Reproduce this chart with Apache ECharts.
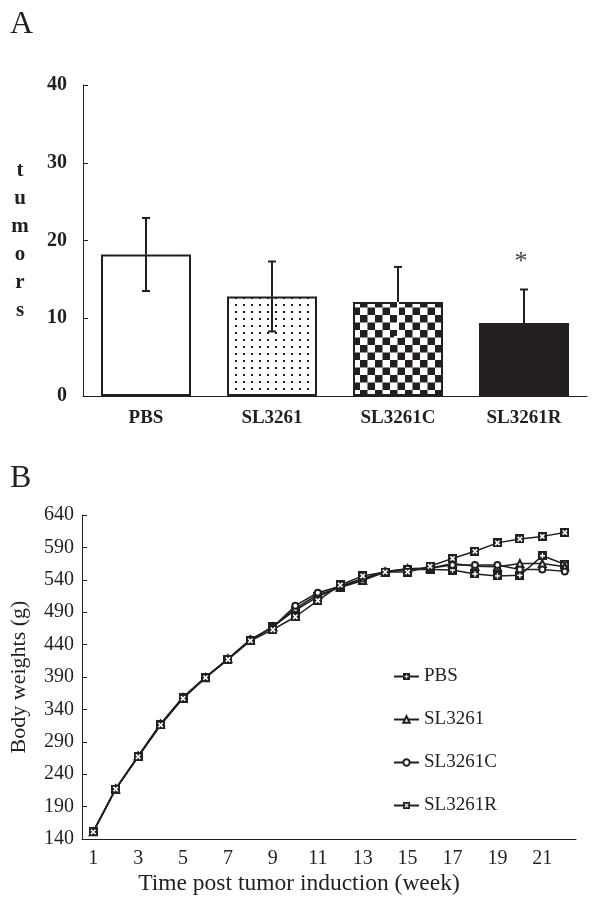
<!DOCTYPE html>
<html><head><meta charset="utf-8">
<script src="https://cdn.jsdelivr.net/npm/echarts@6/dist/echarts.min.js"></script>
<style>html,body{margin:0;padding:0;background:#fff}#c{width:597px;height:908px}</style>
</head><body><div id="c"></div>
<script>
// ---- Panel A data ----
const groups = ['PBS', 'SL3261', 'SL3261C', 'SL3261R'];
const tumorMeans = [18.2, 12.8, 12.1, 9.4];
const tumorErrors = [4.7, 4.5, 4.5, 4.3];
const significance = ['', '', '', '*'];

// ---- Panel B data ----
const weeks = ['1','2','3','4','5','6','7','8','9','10','11','12','13','14','15','16','17','18','19','20','21','22'];
const pbs      = [151, 217, 267, 316, 358, 389, 417, 446, 468, 493, 514, 529, 541, 552, 556, 556, 555, 549, 546, 547, 577, 564];
const sl3261   = [151, 217, 268, 317, 358, 389, 418, 447, 467, 496, 517, 528, 539, 552, 557, 558, 565, 561, 560, 565, 565, 560];
const sl3261C  = [151, 218, 268, 318, 359, 390, 418, 448, 467, 500, 520, 530, 542, 553, 557, 558, 563, 563, 563, 556, 556, 553];
const sl3261R  = [151, 217, 267, 316, 357, 389, 417, 446, 463, 483, 508, 532, 546, 552, 552, 561, 573, 584, 597, 603, 607, 613];

const INK = '#231f20';
const FONT = '"Liberation Serif", "Times New Roman", serif';

function makePattern(kind) {
  const c = document.createElement('canvas');
  const ctx = c.getContext('2d');
  if (kind === 'dots') {
    c.width = 8; c.height = 7;
    ctx.fillStyle = '#fff'; ctx.fillRect(0, 0, 8, 7);
    ctx.fillStyle = INK; ctx.fillRect(3, 3, 2, 2);
  } else if (kind === 'checker') {
    c.width = 15; c.height = 15;
    ctx.fillStyle = '#fff'; ctx.fillRect(0, 0, 15, 15);
    ctx.fillStyle = INK;
    ctx.fillRect(0, 0, 7.5, 7.5); ctx.fillRect(7.5, 7.5, 7.5, 7.5);
  }
  return c;
}
function markerImage(kind) {
  const s = 27;
  const c = document.createElement('canvas');
  c.width = s; c.height = s;
  const ctx = c.getContext('2d');
  ctx.fillStyle = INK; ctx.fillRect(0, 0, s, s);
  ctx.strokeStyle = '#fff'; ctx.lineWidth = 5; ctx.lineCap = 'butt';
  ctx.beginPath();
  if (kind === 'plus') {
    ctx.moveTo(s / 2, 6); ctx.lineTo(s / 2, s - 6);
    ctx.moveTo(6, s / 2); ctx.lineTo(s - 6, s / 2);
  } else {
    ctx.moveTo(7, 7); ctx.lineTo(s - 7, s - 7);
    ctx.moveTo(s - 7, 7); ctx.lineTo(7, s - 7);
  }
  ctx.stroke();
  return 'image://' + c.toDataURL();
}

const barFills = [
  '#ffffff',
  { image: makePattern('dots'), repeat: 'repeat' },
  { image: makePattern('checker'), repeat: 'repeat' },
  INK
];
const lowerColors = [INK, INK, '#ffffff', INK];

const chart = echarts.init(document.getElementById('c'), null, { renderer: 'canvas' });

const option = {
  animation: false,
  backgroundColor: '#fff',
  textStyle: { fontFamily: FONT, color: INK },
  title: [
    { text: 'A', left: 5, top: 4, textStyle: { fontFamily: FONT, fontSize: 32, fontWeight: 'normal', color: INK } },
    { text: 'B', left: 5, top: 458, textStyle: { fontFamily: FONT, fontSize: 32, fontWeight: 'normal', color: INK } }
  ],
  grid: [
    { left: 83, top: 85, width: 504, height: 311 },
    { left: 81, top: 515, width: 495, height: 324 }
  ],
  xAxis: [
    {
      gridIndex: 0, type: 'category', data: groups, boundaryGap: true,
      axisLine: { lineStyle: { color: INK, width: 1 } },
      axisTick: { inside: true, length: 5, interval: 0, lineStyle: { color: INK } },
      axisLabel: { fontFamily: FONT, fontSize: 19, fontWeight: 'bold', color: INK, margin: 13 }
    },
    {
      gridIndex: 1, type: 'category', data: weeks, boundaryGap: true,
      axisLine: { lineStyle: { color: INK, width: 1 } },
      axisTick: { inside: true, length: 5, interval: 0, lineStyle: { color: INK } },
      axisLabel: { fontFamily: FONT, fontSize: 20, color: INK, margin: 10, interval: 1 },
      name: 'Time post tumor induction (week)', nameLocation: 'middle', nameGap: 33,
      nameTextStyle: { fontFamily: FONT, fontSize: 23.5, color: INK, padding: [0, 60, 0, 0] }
    }
  ],
  yAxis: [
    {
      gridIndex: 0, type: 'value', min: 0, max: 40, interval: 10,
      axisLine: { show: true, lineStyle: { color: INK, width: 1 } },
      axisTick: { show: true, inside: true, length: 5, lineStyle: { color: INK } },
      splitLine: { show: false },
      axisLabel: { fontFamily: FONT, fontSize: 20, fontWeight: 'bold', color: INK, margin: 16 },
      name: 't\nu\nm\no\nr\ns', nameLocation: 'middle', nameRotate: 0, nameGap: 63,
      nameTextStyle: { fontFamily: FONT, fontSize: 21, fontWeight: 'bold', color: INK, lineHeight: 28, align: 'center', verticalAlign: 'middle' }
    },
    {
      gridIndex: 1, type: 'value', min: 140, max: 640, interval: 50,
      axisLine: { show: true, lineStyle: { color: INK, width: 1 } },
      axisTick: { show: true, inside: true, length: 5, lineStyle: { color: INK } },
      splitLine: { show: false },
      axisLabel: { fontFamily: FONT, fontSize: 20, color: INK, margin: 8 },
      name: 'Body weights (g)', nameLocation: 'middle', nameGap: 52,
      nameTextStyle: { fontFamily: FONT, fontSize: 22, color: INK }
    }
  ],
  legend: {
    data: groups, orient: 'vertical', left: 393, top: 667,
    itemWidth: 25, itemHeight: 8, itemGap: 24, padding: 0,
    textStyle: { fontFamily: FONT, fontSize: 19, color: INK }
  },
  series: [
    {
      name: 'Tumors', type: 'bar', xAxisIndex: 0, yAxisIndex: 0, barWidth: 90,
      data: tumorMeans.map((v, i) => ({ value: v, itemStyle: { color: barFills[i], borderColor: INK, borderWidth: 2 } })),
      z: 2
    },
    {
      name: 'Tumor error', type: 'custom', xAxisIndex: 0, yAxisIndex: 0, z: 5,
      data: tumorMeans.map((v, i) => [i, v, tumorErrors[i]]),
      encode: { x: 0, y: 1 },
      renderItem: function (params, api) {
        const i = api.value(0), m = api.value(1), e = api.value(2);
        const pm = api.coord([i, m]);
        const pt = api.coord([i, m + e]);
        const pb = api.coord([i, m - e]);
        const cap = 4;
        const up = { stroke: INK, lineWidth: 2 };
        const lo = { stroke: lowerColors[params.dataIndex], lineWidth: 2 };
        const children = [
          { type: 'line', shape: { x1: pm[0], y1: pm[1], x2: pt[0], y2: pt[1] }, style: up },
          { type: 'line', shape: { x1: pt[0] - cap, y1: pt[1], x2: pt[0] + cap, y2: pt[1] }, style: up },
          { type: 'line', shape: { x1: pm[0], y1: pm[1], x2: pb[0], y2: pb[1] }, style: lo },
          { type: 'line', shape: { x1: pb[0] - cap, y1: pb[1], x2: pb[0] + cap, y2: pb[1] }, style: lo }
        ];
        const sig = significance[params.dataIndex];
        if (sig) {
          children.push({ type: 'text', x: pt[0] - 3, y: pt[1] - 27,
            style: { text: sig, fontFamily: FONT, fontSize: 26, fill: '#444', align: 'center', verticalAlign: 'middle' } });
        }
        return { type: 'group', children: children };
      }
    },
    {
      name: 'PBS', type: 'line', xAxisIndex: 1, yAxisIndex: 1, data: pbs,
      symbol: markerImage('plus'), symbolSize: 9,
      lineStyle: { color: INK, width: 1.5 }, itemStyle: { color: INK }, z: 3
    },
    {
      name: 'SL3261', type: 'line', xAxisIndex: 1, yAxisIndex: 1, data: sl3261,
      symbol: 'emptyTriangle', symbolSize: 7,
      lineStyle: { color: INK, width: 1.5 }, itemStyle: { color: INK, borderWidth: 1 }, z: 3
    },
    {
      name: 'SL3261C', type: 'line', xAxisIndex: 1, yAxisIndex: 1, data: sl3261C,
      symbol: 'emptyCircle', symbolSize: 6,
      lineStyle: { color: INK, width: 1.5 }, itemStyle: { color: INK, borderWidth: 1 }, z: 3
    },
    {
      name: 'SL3261R', type: 'line', xAxisIndex: 1, yAxisIndex: 1, data: sl3261R,
      symbol: markerImage('x'), symbolSize: 9,
      lineStyle: { color: INK, width: 1.5 }, itemStyle: { color: INK }, z: 4
    }
  ]
};
chart.setOption(option);
</script>
</body></html>
